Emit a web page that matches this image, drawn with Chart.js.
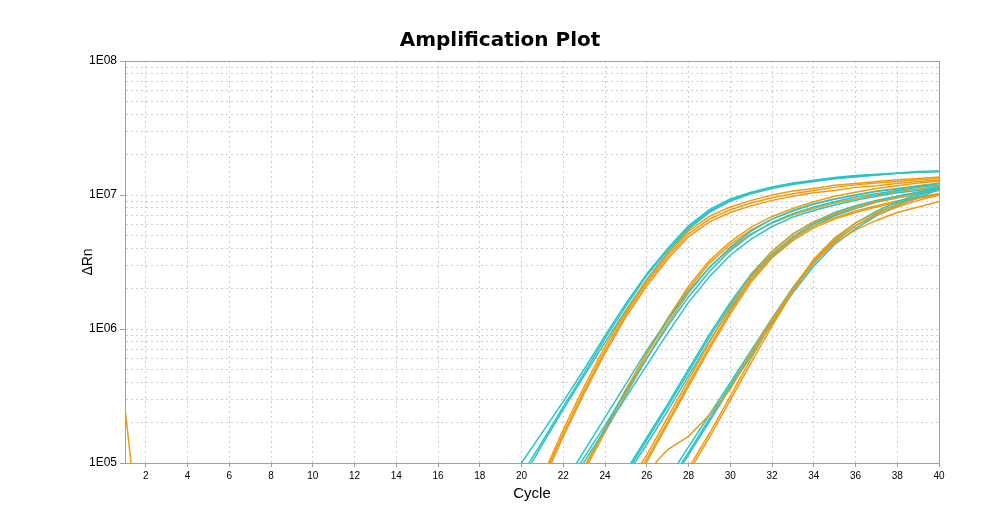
<!DOCTYPE html>
<html>
<head>
<meta charset="utf-8">
<script src="https://cdn.jsdelivr.net/npm/chart.js@4.4.1/dist/chart.umd.min.js"></script>
<style>
html,body{margin:0;padding:0;background:#fff;}
#wrap{width:1000px;height:522px;}
</style>
</head>
<body>
<div id="wrap"><canvas id="c" width="1000" height="522"></canvas></div>
<script>
// ---------- data ----------
const cycles = [1,2,3,4,5,6,7,8,9,10,11,12,13,14,15,16,17,18,19,20,21,22,23,24,25,26,27,28,29,30,31,32,33,34,35,36,37,38,39,40];
const xTickValues = [2,4,6,8,10,12,14,16,18,20,22,24,26,28,30,32,34,36,38,40];
const yDecades = [1e5,1e6,1e7,1e8];
const yTickLabels = ['1E05','1E06','1E07','1E08'];
const yMinorSteps = [2,3,4,5,6,7,8,9];

function gap(n){ return new Array(n).fill(null); }

// dilution group 1
const cyanG1a = [...gap(18), 5.75e4,1.00e5,1.70e5,2.88e5,5.01e5,8.91e5,1.55e6,2.57e6,3.98e6,5.89e6,7.76e6,9.33e6,1.05e7,1.15e7,1.23e7,1.29e7,1.35e7,1.40e7,1.43e7,1.46e7,1.50e7,1.51e7];
const cyanG1b = [...gap(19), 8.13e4,1.45e5,2.63e5,4.68e5,8.51e5,1.48e6,2.51e6,3.89e6,5.75e6,7.59e6,9.12e6,1.04e7,1.14e7,1.22e7,1.27e7,1.33e7,1.38e7,1.41e7,1.45e7,1.48e7,1.50e7];
const cyanG1c = [...gap(19), 7.41e4,1.38e5,2.51e5,4.47e5,7.94e5,1.38e6,2.34e6,3.72e6,5.56e6,7.41e6,9.02e6,1.02e7,1.12e7,1.20e7,1.26e7,1.32e7,1.36e7,1.41e7,1.45e7,1.48e7,1.50e7];
const orangeG1a = [...gap(20), 7.94e4,1.78e5,3.72e5,7.41e5,1.35e6,2.29e6,3.63e6,5.37e6,6.92e6,8.13e6,9.12e6,1.00e7,1.07e7,1.12e7,1.18e7,1.22e7,1.26e7,1.30e7,1.33e7,1.36e7];
const orangeG1b = [...gap(20), 7.59e4,1.66e5,3.47e5,6.92e5,1.29e6,2.19e6,3.47e6,5.13e6,6.61e6,7.76e6,8.71e6,9.55e6,1.02e7,1.08e7,1.14e7,1.19e7,1.23e7,1.26e7,1.30e7,1.33e7];
const orangeG1c = [...gap(20), 7.08e4,1.58e5,3.31e5,6.61e5,1.23e6,2.09e6,3.31e6,4.90e6,6.31e6,7.41e6,8.32e6,9.12e6,9.77e6,1.04e7,1.08e7,1.14e7,1.17e7,1.22e7,1.26e7,1.29e7];
// dilution group 2
const cyanG2a = [...gap(21), 6.92e4,1.23e5,2.19e5,3.89e5,6.92e5,1.17e6,1.91e6,2.88e6,4.07e6,5.37e6,6.61e6,7.67e6,8.61e6,9.33e6,1.00e7,1.06e7,1.11e7,1.16e7,1.22e7];
const cyanG2b = [...gap(21), 6.31e4,1.10e5,1.91e5,3.39e5,6.03e5,1.05e6,1.74e6,2.69e6,3.85e6,5.07e6,6.24e6,7.24e6,8.13e6,8.91e6,9.66e6,1.02e7,1.08e7,1.14e7,1.19e7];
const cyanG2c = [...gap(21), 5.75e4,1.02e5,1.78e5,3.09e5,5.37e5,9.33e5,1.58e6,2.45e6,3.55e6,4.68e6,5.82e6,6.84e6,7.67e6,8.41e6,9.12e6,9.77e6,1.04e7,1.08e7,1.14e7];
const orangeG2a = [...gap(22), 9.33e4,1.82e5,3.55e5,6.61e5,1.20e6,2.09e6,3.24e6,4.47e6,5.75e6,6.92e6,7.94e6,8.91e6,9.77e6,1.05e7,1.12e7,1.17e7,1.23e7,1.27e7];
const orangeG2b = [...gap(22), 9.12e4,1.78e5,3.47e5,6.46e5,1.17e6,2.00e6,3.09e6,4.27e6,5.50e6,6.61e6,7.59e6,8.51e6,9.33e6,1.00e7,1.07e7,1.12e7,1.17e7,1.23e7];
const orangeG2c = [...gap(22), 8.71e4,1.70e5,3.24e5,6.03e5,1.10e6,1.86e6,2.88e6,3.98e6,5.13e6,6.17e6,7.08e6,7.94e6,8.71e6,9.33e6,1.00e7,1.06e7,1.11e7,1.16e7];
// dilution group 3
const cyanG3a = [...gap(24), 8.71e4,1.55e5,2.75e5,5.01e5,9.12e5,1.58e6,2.57e6,3.80e6,5.13e6,6.31e6,7.41e6,8.32e6,9.12e6,9.77e6,1.05e7,1.12e7];
const cyanG3b = [...gap(24), 8.32e4,1.48e5,2.63e5,4.79e5,8.71e5,1.51e6,2.45e6,3.63e6,4.90e6,6.10e6,7.16e6,8.13e6,9.02e6,9.77e6,1.05e7,1.11e7];
const cyanG3c = [...gap(24), 7.94e4,1.38e5,2.45e5,4.47e5,8.13e5,1.41e6,2.34e6,3.47e6,4.73e6,5.89e6,7.00e6,7.94e6,8.81e6,9.55e6,1.02e7,1.08e7];
const orangeG3a = [...gap(24), 6.61e4,1.15e5,2.19e5,4.17e5,7.94e5,1.45e6,2.51e6,3.80e6,5.13e6,6.31e6,7.24e6,8.13e6,8.91e6,9.55e6,1.02e7,1.10e7];
const orangeG3b = [...gap(24), 6.31e4,1.07e5,2.04e5,3.89e5,7.41e5,1.35e6,2.34e6,3.55e6,4.79e6,5.89e6,6.76e6,7.59e6,8.32e6,9.02e6,9.66e6,1.02e7];
const orangeG3c = [...gap(24), 6.03e4,1.02e5,1.95e5,3.72e5,7.08e5,1.29e6,2.24e6,3.39e6,4.57e6,5.69e6,6.61e6,7.41e6,8.13e6,8.81e6,9.44e6,1.00e7];
// dilution group 4
const cyanG4a = [...gap(26), 7.59e4,1.32e5,2.29e5,3.98e5,6.92e5,1.20e6,2.04e6,3.24e6,4.68e6,6.17e6,7.59e6,8.91e6,1.02e7,1.15e7];
const cyanG4b = [...gap(26), 6.92e4,1.20e5,2.14e5,3.80e5,6.61e5,1.15e6,1.95e6,3.09e6,4.47e6,5.89e6,7.24e6,8.61e6,9.89e6,1.12e7];
const cyanG4c = [...gap(26), 6.46e4,1.15e5,2.04e5,3.63e5,6.31e5,1.10e6,1.86e6,2.95e6,4.27e6,5.62e6,7.00e6,8.32e6,9.55e6,1.10e7];
const orangeG4a = [2.57e5,1.00e4, ...gap(23), 8.51e4,1.26e5,1.58e5,2.29e5,3.55e5,6.76e5,1.17e6,2.00e6,3.16e6,4.37e6,5.50e6,6.46e6,7.41e6,8.13e6,8.91e6];
const orangeG4b = [...gap(27), 9.12e4,1.66e5,3.16e5,6.03e5,1.12e6,2.00e6,3.31e6,4.79e6,6.17e6,7.41e6,8.51e6,9.44e6,1.02e7];
const orangeG4c = [...gap(27), 8.51e4,1.55e5,2.95e5,5.62e5,1.05e6,1.91e6,3.16e6,4.57e6,5.89e6,7.08e6,8.13e6,9.12e6,1.00e7];

const CYAN = '#2BC3C7';
const ORANGE = '#F19A12';

const seriesList = [
  [orangeG4a, ORANGE],[orangeG4b, ORANGE],[orangeG4c, ORANGE],
  [cyanG4a, CYAN],[cyanG4b, CYAN],[cyanG4c, CYAN],
  [orangeG3a, ORANGE],[orangeG3b, ORANGE],[orangeG3c, ORANGE],
  [cyanG3a, CYAN],[cyanG3b, CYAN],[cyanG3c, CYAN],
  [cyanG2a, CYAN],[cyanG2b, CYAN],[cyanG2c, CYAN],
  [orangeG2a, ORANGE],[orangeG2b, ORANGE],[orangeG2c, ORANGE],
  [orangeG1a, ORANGE],[orangeG1b, ORANGE],[orangeG1c, ORANGE],
  [cyanG1a, CYAN],[cyanG1b, CYAN],[cyanG1c, CYAN]
];

const datasets = seriesList.map(([vals, col]) => ({
  data: cycles.map((c, i) => ({x: c, y: vals[i]})),
  borderColor: col,
  borderWidth: 1.5,
  pointRadius: 0,
  fill: false,
  tension: 0,
  spanGaps: false
}));

const yTickList = [];
yDecades.forEach((d, i) => {
  yTickList.push({value: d, major: true});
  if (i < yDecades.length - 1) yMinorSteps.forEach(m => yTickList.push({value: d * m, major: false}));
});

const frame = {
  id: 'frame',
  beforeDatasetsDraw(chart) {
    const {ctx, chartArea: a} = chart;
    ctx.save();
    ctx.strokeStyle = '#a0a0a0';
    ctx.lineWidth = 1;
    ctx.beginPath();
    ctx.moveTo(a.left, Math.round(a.top) + 0.5);
    ctx.lineTo(a.right, Math.round(a.top) + 0.5);
    ctx.moveTo(Math.round(a.right) + 0.5, a.top);
    ctx.lineTo(Math.round(a.right) + 0.5, a.bottom);
    ctx.stroke();
    ctx.restore();
  }
};

new Chart(document.getElementById('c'), {
  type: 'line',
  data: {datasets},
  plugins: [frame],
  options: {
    responsive: false,
    animation: false,
    devicePixelRatio: 1,
    layout: {padding: {left: 61, right: 61, top: 0, bottom: 0}},
    plugins: {
      legend: {display: false},
      tooltip: {enabled: false},
      title: {
        display: true,
        text: 'Amplification Plot',
        color: '#000',
        font: {family: 'DejaVu Sans', weight: 'bold', size: 20},
        padding: {top: 29, bottom: 8}
      }
    },
    scales: {
      x: {
        type: 'linear',
        min: 1,
        max: 40,
        afterBuildTicks: s => { s.ticks = xTickValues.map(v => ({value: v})); },
        afterFit: s => { s.height = 59; },
        ticks: {
          autoSkip: false, maxRotation: 0, padding: 3,
          color: '#000',
          font: {family: 'Liberation Sans', size: 10},
          callback: v => String(v)
        },
        grid: {color: '#cdcdcd', lineWidth: 1, tickLength: 4, tickColor: '#a0a0a0'},
        border: {display: true, color: '#a0a0a0', width: 1, dash: [2, 3]},
        title: {
          display: true, text: 'Cycle', color: '#000',
          font: {family: 'Liberation Sans', size: 15},
          padding: {top: 0, bottom: 19}
        }
      },
      y: {
        type: 'logarithmic',
        min: 1e5,
        max: 1e8,
        afterBuildTicks: s => { s.ticks = yTickList.map(t => ({value: t.value, major: t.major})); },
        afterFit: s => { s.width = 64; },
        ticks: {
          autoSkip: false, padding: 3,
          color: '#000',
          font: {family: 'Liberation Sans', size: 12},
          callback: v => { const i = yDecades.indexOf(v); return i >= 0 ? yTickLabels[i] : ''; }
        },
        grid: {
          color: '#cdcdcd', lineWidth: 1, tickLength: 5,
          tickColor: c => (c.tick && yDecades.indexOf(c.tick.value) >= 0) ? '#a0a0a0' : 'rgba(0,0,0,0)'
        },
        border: {display: true, color: '#a0a0a0', width: 1, dash: [2, 3]},
        title: {
          display: true, text: 'ΔRn', color: '#000',
          font: {family: 'Liberation Sans', size: 14},
          padding: {top: 19, bottom: 0}
        }
      }
    }
  }
});
</script>
</body>
</html>
